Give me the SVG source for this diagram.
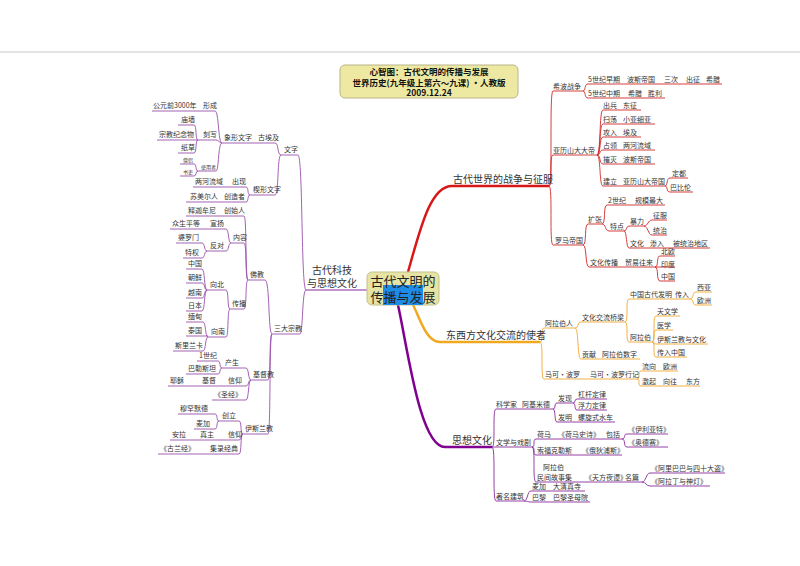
<svg xmlns="http://www.w3.org/2000/svg" width="800" height="566" viewBox="0 0 800 566">
<style>
text{font-family:"Noto Sans CJK SC","Noto Sans",sans-serif;fill:#333;font-size:7px}
.m{font-size:10px}
.s{font-size:5px}
.t{font-size:8.5px;font-weight:bold;fill:#111;text-anchor:middle}
.c{font-size:13px;fill:#222;text-anchor:middle}
.r path,.o path,.p path,.l path{fill:none;stroke-width:0.9}
.r path{stroke:#d02828}.o path{stroke:#f0a830}.p path{stroke:#8a2a9a}.l path{stroke:#9a50aa}
</style>
<rect width="800" height="566" fill="#fff"/>
<line x1="0" y1="52" x2="800" y2="52" stroke="#bbb" stroke-width="0.8"/>
<g id="title">
<rect x="340" y="65" width="178" height="33" rx="5" fill="#ede9a2" stroke="#b8b488" stroke-width="1"/>
<text class="t" x="429" y="75">心智图：古代文明的传播与发展</text>
<text class="t" x="429" y="86">世界历史(九年级上第六～九课) ·人教版</text>
<text class="t" x="429" y="96">2009.12.24</text>
</g>
<g id="connectors">
<path d="M408 272 C420 230 430 186 452 186 H549" fill="none" stroke="#d81818" stroke-width="2.5"/>
<path d="M413 305 C420 318 426 342 440 342 H540" fill="none" stroke="#f0a820" stroke-width="2.5"/>
<path d="M398 305 C408 350 420 447 445 447 H492" fill="none" stroke="#800090" stroke-width="2.5"/>
<path d="M367 290 H306" fill="none" stroke="#8a2a9a" stroke-width="1.2"/>
<g class="r">
<path d="M549 186 C553 186 549 91 553 91 H583"/>
<path d="M583 91 C586 91 584 84 588 84 H722"/>
<path d="M583 91 C586 91 584 98 588 98 H665"/>
<path d="M549 186 C553 186 549 155 553 155 H597"/>
<path d="M597 155 C601 155 599 110 603 110 H641"/>
<path d="M597 155 C601 155 599 124 603 124 H655"/>
<path d="M597 155 C601 155 599 137 603 137 H641"/>
<path d="M597 155 C601 155 599 150 603 150 H655"/>
<path d="M597 155 C601 155 599 164 603 164 H655"/>
<path d="M597 155 C601 155 599 186 603 186 H665"/>
<path d="M665 186 C668 186 666 178 670 178 H688"/>
<path d="M665 186 C668 186 666 192 670 192 H693"/>
<path d="M549 186 C553 186 549 245 553 245 H583"/>
<path d="M583 245 C587 245 584 224 588 224 H602"/>
<path d="M602 224 C606 224 603 205 607 205 H665"/>
<path d="M602 224 C606 224 605 231 609 231 H624"/>
<path d="M624 231 C627 231 626 226 629 226 H644"/>
<path d="M644 226 C648 226 648 220 652 220 H667"/>
<path d="M644 226 C648 226 648 235 652 235 H667"/>
<path d="M624 231 C627 231 626 248 629 248 H710"/>
<path d="M583 245 C587 245 585 267 589 267 H655"/>
<path d="M655 267 C659 267 656 256 660 256 H675"/>
<path d="M655 267 H675"/>
<path d="M655 267 C659 267 656 281 660 281 H675"/>
</g>
<g class="o">
<path d="M540 342 C544 342 540 328 544 328 H575"/>
<path d="M575 328 C579 328 577 322 581 322 H625"/>
<path d="M625 322 C629 322 625 299 629 299 H690"/>
<path d="M690 299 C694 299 692 292 696 292 H712"/>
<path d="M690 299 C694 299 692 305 696 305 H712"/>
<path d="M625 322 C629 322 625 342 629 342 H652"/>
<path d="M652 342 C656 342 652 316 656 316 H680"/>
<path d="M652 342 C656 342 652 330 656 330 H673"/>
<path d="M652 342 C656 342 652 344 656 344 H708"/>
<path d="M652 342 C656 342 652 357 656 357 H687"/>
<path d="M575 328 C579 328 577 359 581 359 H640"/>
<path d="M540 342 C544 342 540 379 544 379 H637"/>
<path d="M637 379 C641 379 637 371 641 371 H678"/>
<path d="M637 379 C641 379 637 386 641 386 H700"/>
</g>
<g class="p">
<path d="M492 447 C496 447 492 409 496 409 H553"/>
<path d="M553 409 C556 409 554 403 557 403 H573"/>
<path d="M573 403 C576 403 574 399 577 399 H607"/>
<path d="M573 403 C576 403 574 410 577 410 H607"/>
<path d="M553 409 C556 409 554 422 557 422 H615"/>
<path d="M492 447 H532"/>
<path d="M532 447 C536 447 532 439 536 439 H622"/>
<path d="M622 439 C626 439 623 434 627 434 H668"/>
<path d="M622 439 C626 439 623 447 627 447 H668"/>
<path d="M532 447 C536 447 532 455 536 455 H622"/>
<path d="M532 447 C536 447 532 482 536 482 H642"/>
<path d="M642 482 C646 482 646 473 650 473 H725"/>
<path d="M642 482 C646 482 646 486 650 486 H710"/>
<path d="M492 447 C496 447 492 501 496 501 H524"/>
<path d="M524 501 C528 501 527 491 531 491 H585"/>
<path d="M524 501 C528 501 527 502 531 502 H590"/>
</g>
<g class="l">
<path d="M281 155 H298 C303 155 301 290 306 290"/>
<path d="M222 143 H275 C279 143 277 155 281 155"/>
<path d="M152 111 H215 C219 111 218 143 222 143"/>
<path d="M198 140 H216 C219 140 219 143 222 143"/>
<path d="M178 125 H194 C197 125 195 140 198 140"/>
<path d="M157 140 H198"/>
<path d="M178 153 H194 C197 153 195 140 198 140"/>
<path d="M198 171 H216 C219 171 218 143 222 143"/>
<path d="M180 164 H194 C197 164 195 171 198 171"/>
<path d="M180 176 H194 C197 176 195 171 198 171"/>
<path d="M250 195 H275 C279 195 277 155 281 155"/>
<path d="M193 187 H246 C249 187 247 195 250 195"/>
<path d="M186 202 H246 C249 202 247 195 250 195"/>
<path d="M272 334 H300 C303 334 302 290 306 290"/>
<path d="M248 280 H265 C270 280 268 334 272 334"/>
<path d="M186 216 H244 C247 216 245 280 248 280"/>
<path d="M231 243 H244 C247 243 245 280 248 280"/>
<path d="M170 229 H226 C229 229 228 243 231 243"/>
<path d="M207 251 H226 C229 251 228 243 231 243"/>
<path d="M176 243 H202 C205 243 204 251 207 251"/>
<path d="M183 258 H202 C205 258 204 251 207 251"/>
<path d="M230 309 H244 C247 309 245 280 248 280"/>
<path d="M207 290 H226 C229 290 227 309 230 309"/>
<path d="M186 269 H202 C205 269 204 290 207 290"/>
<path d="M186 283 H202 C205 283 204 290 207 290"/>
<path d="M186 298 H202 C205 298 204 290 207 290"/>
<path d="M186 311 H202 C205 311 204 290 207 290"/>
<path d="M208 337 H226 C229 337 227 309 230 309"/>
<path d="M186 322 H203 C206 322 205 337 208 337"/>
<path d="M186 336 H208"/>
<path d="M173 351 H203 C206 351 205 337 208 337"/>
<path d="M251 380 H268 C271 380 269 334 272 334"/>
<path d="M222 368 H246 C249 368 248 380 251 380"/>
<path d="M197 361 H218 C221 361 219 368 222 368"/>
<path d="M186 374 H218 C221 374 219 368 222 368"/>
<path d="M168 386 H246 C249 386 248 380 251 380"/>
<path d="M212 400 H246 C249 400 248 380 251 380"/>
<path d="M243 434 H268 C271 434 269 334 272 334"/>
<path d="M219 421 H239 C242 421 240 434 243 434"/>
<path d="M178 414 H215 C218 414 216 421 219 421"/>
<path d="M194 429 H215 C218 429 216 421 219 421"/>
<path d="M170 440 H239 C242 440 240 434 243 434"/>
<path d="M158 454 H239 C242 454 240 434 243 434"/>
</g>
</g>
<g id="center">
<rect x="367" y="272" width="72" height="33" rx="5" fill="#e6e4a4" stroke="#c4c08c"/>
<rect x="383" y="285" width="40" height="20" fill="#1e8ce6"/>
<text class="c" x="403" y="286">古代文明的</text>
<text class="c" x="403" y="302">传播与发展</text>
</g>
<g id="war">
<text class="m" x="453" y="183">古代世界的战争与征服</text>
<text x="553" y="89">希波战争</text>
<text x="588" y="82">5世纪早期</text><text x="627" y="82">波斯帝国</text><text x="664" y="82">三次</text><text x="686" y="82">出征</text><text x="706" y="82">希腊</text>
<text x="588" y="96">5世纪中期</text><text x="628" y="96">希腊</text><text x="648" y="96">胜利</text>
<text x="553" y="153">亚历山大大帝</text>
<text x="603" y="108">出兵</text><text x="623" y="108">东征</text>
<text x="603" y="122">扫荡</text><text x="623" y="122">小亚细亚</text>
<text x="603" y="135">攻入</text><text x="623" y="135">埃及</text>
<text x="603" y="148">占领</text><text x="623" y="148">两河流域</text>
<text x="603" y="162">摧灭</text><text x="623" y="162">波斯帝国</text>
<text x="603" y="184">建立</text><text x="623" y="184">亚历山大帝国</text>
<text x="672" y="176">定都</text><text x="670" y="190">巴比伦</text>
<text x="555" y="243">罗马帝国</text>
<text x="588" y="222">扩张</text>
<text x="608" y="203">2世纪</text><text x="635" y="203">规模最大</text>
<text x="610" y="229">特点</text>
<text x="630" y="224">暴力</text><text x="653" y="218">征服</text><text x="653" y="233">统治</text>
<text x="630" y="246">文化</text><text x="650" y="246">渗入</text><text x="673" y="246">被统治地区</text>
<text x="590" y="265">文化传播</text><text x="625" y="265">贸易往来</text>
<text x="661" y="254">北欧</text><text x="661" y="267">印度</text><text x="661" y="279">中国</text>
</g>
<g id="exchange">
<text class="m" x="446" y="339">东西方文化交流的使者</text>
<text x="545" y="326">阿拉伯人</text>
<text x="582" y="320">文化交流桥梁</text>
<text x="630" y="297">中国古代发明</text><text x="675" y="297">传入</text>
<text x="697" y="290">西亚</text><text x="697" y="303">欧洲</text>
<text x="630" y="340">阿拉伯</text>
<text x="657" y="314">天文学</text><text x="657" y="328">医学</text><text x="657" y="342">伊斯兰教与文化</text><text x="657" y="355">传入中国</text>
<text x="582" y="357">贡献</text><text x="602" y="357">阿拉伯数字</text>
<text x="545" y="377">马可·波罗</text><text x="590" y="377">马可·波罗行记</text>
<text x="642" y="369">流向</text><text x="663" y="369">欧洲</text>
<text x="642" y="384">激起</text><text x="663" y="384">向往</text><text x="686" y="384">东方</text>
</g>
<g id="thought">
<text class="m" x="452" y="444">思想文化</text>
<text x="496" y="407">科学家</text><text x="522" y="407">阿基米德</text>
<text x="558" y="401">发现</text><text x="578" y="397">杠杆定律</text><text x="578" y="408">浮力定律</text>
<text x="558" y="420">发明</text><text x="578" y="420">螺旋式水车</text>
<text x="496" y="445">文学与戏剧</text>
<text x="537" y="437">荷马</text><text x="558" y="437">《荷马史诗》</text><text x="606" y="437">包括</text>
<text x="628" y="432">《伊利亚特》</text><text x="628" y="445">《奥德赛》</text>
<text x="537" y="453">索福克勒斯</text><text x="582" y="453">《俄狄浦斯》</text>
<text x="543" y="470">阿拉伯</text>
<text x="537" y="480">民间故事集</text><text x="585" y="480">《天方夜谭》</text><text x="625" y="480">名篇</text>
<text x="651" y="471">《阿里巴巴与四十大盗》</text><text x="651" y="484">《阿拉丁与神灯》</text>
<text x="496" y="499">著名建筑</text>
<text x="532" y="489">麦加</text><text x="553" y="489">大清真寺</text>
<text x="532" y="500">巴黎</text><text x="553" y="500">巴黎圣母院</text>
</g>
<g id="science">
<text class="m" x="312" y="274">古代科技</text>
<text class="m" x="307" y="287">与思想文化</text>
<text x="284" y="152">文字</text>
<text x="258" y="140">古埃及</text><text x="224" y="140">象形文字</text>
<text x="153" y="108">公元前3000年</text><text x="203" y="108">形成</text>
<text x="181" y="122">庙墙</text><text x="159" y="137">宗教纪念物</text><text x="203" y="137">刻写</text><text x="181" y="150">纸草</text>
<text class="s" x="183" y="162">僧侣</text><text class="s" x="183" y="174">书吏</text><text class="s" x="201" y="169">使用者</text>
<text x="253" y="192">楔形文字</text>
<text x="195" y="184">两河流域</text><text x="232" y="184">出现</text>
<text x="190" y="199">苏美尔人</text><text x="224" y="199">创造者</text>
<text x="274" y="331">三大宗教</text>
<text x="250" y="277">佛教</text>
<text x="188" y="213">释迦牟尼</text><text x="224" y="213">创始人</text>
<text x="233" y="240">内容</text>
<text x="172" y="226">众生平等</text><text x="210" y="226">宣扬</text>
<text x="178" y="240">婆罗门</text><text x="210" y="248">反对</text><text x="185" y="255">特权</text>
<text x="232" y="306">传播</text>
<text x="210" y="287">向北</text>
<text x="188" y="266">中国</text><text x="188" y="280">朝鲜</text><text x="188" y="295">越南</text><text x="188" y="308">日本</text>
<text x="211" y="334">向南</text>
<text x="188" y="319">缅甸</text><text x="188" y="333">泰国</text><text x="175" y="348">斯里兰卡</text>
<text x="253" y="377">基督教</text>
<text x="225" y="365">产生</text><text x="199" y="358">1世纪</text><text x="188" y="371">巴勒斯坦</text>
<text x="170" y="383">耶稣</text><text x="202" y="383">基督</text><text x="228" y="383">信仰</text>
<text x="214" y="397">《圣经》</text>
<text x="245" y="431">伊斯兰教</text>
<text x="222" y="418">创立</text><text x="180" y="411">穆罕默德</text><text x="196" y="426">麦加</text>
<text x="172" y="437">安拉</text><text x="200" y="437">真主</text><text x="228" y="437">信仰</text>
<text x="160" y="451">《古兰经》</text><text x="210" y="451">集录经典</text>
</g>
</svg>
